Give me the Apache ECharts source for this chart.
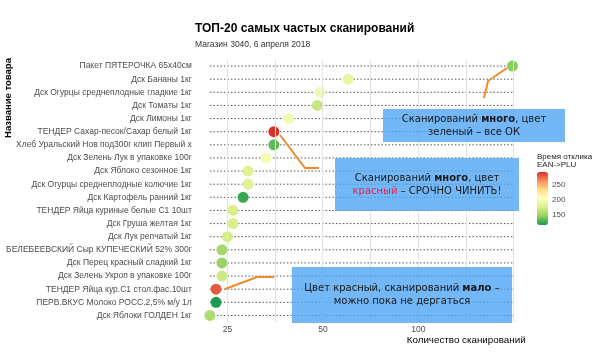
<!DOCTYPE html>
<html><head><meta charset="utf-8">
<script src="https://cdn.jsdelivr.net/npm/echarts@6/dist/echarts.min.js"></script>
<style>html,body{margin:0;padding:0;background:#fff}#c{width:600px;height:359px}</style>
</head><body><div id="c"></div>
<script>
const categories = [
  'Пакет ПЯТЕРОЧКА 65x40см',
  'Дск Бананы 1кг',
  'Дск Огурцы среднеплодные гладкие 1кг',
  'Дск Томаты 1кг',
  'Дск Лимоны 1кг',
  'ТЕНДЕР Сахар-песок/Сахар белый 1кг',
  'Хлеб Уральский Нов под300г клип Первый х',
  'Дск Зелень Лук в упаковке 100г',
  'Дск Яблоко сезонное 1кг',
  'Дск Огурцы среднеплодные колючие 1кг',
  'Дск Картофель ранний 1кг',
  'ТЕНДЕР Яйца куриные белые С1 10шт',
  'Дск Груша желтая 1кг',
  'Дск Лук репчатый 1кг',
  'БЕЛЕБЕЕВСКИЙ Сыр КУПЕЧЕСКИЙ 52% 300г',
  'Дск Перец красный сладкий 1кг',
  'Дск Зелень Укроп в упаковке 100г',
  'ТЕНДЕР Яйца кур.С1 стол.фас.10шт',
  'ПЕРВ.ВКУС Молоко РОСС.2,5% м/у 1л',
  'Дск Яблоки ГОЛДЕН 1кг'
];
const scanCounts = [198, 60, 49, 48, 39, 35, 35, 33, 29, 29, 28, 26, 26, 25, 24, 24, 24, 23, 23, 22];
const responseTimes = [145, 188, 196, 168, 196, 292, 135, 198, 182, 182, 125, 176, 176, 174, 155, 150, 170, 280, 118, 158];
const xTickLabels = [25, 50, 100];
const xMajorBreaks = [25, 50, 100, 200];
const legendTicks = [150, 200, 250];
const colorRange = [117, 293];
const paletteRdYlGnRev = ['#1a9850', '#91cf60', '#d9ef8b', '#ffffbf', '#fee08b', '#fc8d59', '#d73027'];

const chart = echarts.init(document.getElementById('c'));
const lx = scanCounts.map(v => Math.log2(v));
const lmin = Math.min(...lx), lmax = Math.max(...lx);
const pad = 0.05 * (lmax - lmin);
const xMin = lmin - pad, xMax = lmax + pad;
const gridVals = [];
for (let i = 0; i < xMajorBreaks.length; i++) {
  gridVals.push(xMajorBreaks[i]);
  if (i < xMajorBreaks.length - 1) gridVals.push(Math.sqrt(xMajorBreaks[i] * xMajorBreaks[i + 1]));
}

const legTop = 172, legH = 53, legLeft = 537;
const legendGraphics = legendTicks.map(v => ({
  type: 'text', x: legLeft + 15, y: legTop + (colorRange[1] - v) / (colorRange[1] - colorRange[0]) * legH,
  style: { text: String(v), fontSize: 8, fontFamily: 'Liberation Sans', fill: '#4d4d4d', textVerticalAlign: 'middle' }
}));

const boxFill = 'rgba(80,165,245,0.8)';
const txtBase = { fontSize: 10, fontFamily: 'DejaVu Sans', fill: '#1a1a1a' };
const rich = {
  n: Object.assign({}, txtBase),
  b: Object.assign({}, txtBase, { fontWeight: 'bold' }),
  r: Object.assign({}, txtBase, { fill: '#e3264f' })
};
function box(x, y, w, h, text) {
  return [
    { type: 'rect', z: 100, shape: { x, y, width: w, height: h }, style: { fill: boxFill } },
    { type: 'text', z: 101, x: x + w / 2, y: y + h / 2, style: { text, rich, textAlign: 'center', textVerticalAlign: 'middle', lineHeight: 13, fontSize: 10, fontFamily: 'DejaVu Sans' } }
  ];
}
const orange = { stroke: '#f08a2a', lineWidth: 2, fill: null };

chart.setOption({
  animation: false,
  title: {
    text: 'ТОП-20 самых частых сканирований',
    subtext: 'Магазин 3040, 6 апреля 2018',
    left: 195, top: 23, padding: 0, itemGap: 5,
    textStyle: { fontSize: 12, fontWeight: 'bold', fontFamily: 'Liberation Sans', color: '#000' },
    subtextStyle: { fontSize: 8.5, fontFamily: 'Liberation Sans', color: '#333' }
  },
  grid: { left: 194.8, right: 72.4, top: 59.5, bottom: 37, containLabel: false },
  xAxis: {
    type: 'value', min: xMin, max: xMax,
    name: 'Количество сканирований', nameLocation: 'end',
    nameGap: 0,
    nameTextStyle: { fontSize: 9.8, fontFamily: 'Liberation Sans', color: '#000', align: 'right', verticalAlign: 'top', padding: [13, 2, 0, 0] },
    axisLine: { show: false }, axisTick: { show: false },
    splitLine: { show: false },
    axisLabel: {
      customValues: xTickLabels.map(v => Math.log2(v)),
      formatter: v => String(Math.round(Math.pow(2, v))),
      fontSize: 8.5, fontFamily: 'Liberation Sans', color: '#4d4d4d', margin: 3
    }
  },
  yAxis: {
    type: 'category', data: categories, inverse: true,
    axisLine: { show: false }, axisTick: { show: false }, splitLine: { show: false },
    axisLabel: { fontSize: 8.5, fontFamily: 'Liberation Sans', color: '#4d4d4d', margin: 3 }
  },
  visualMap: {
    type: 'continuous', min: colorRange[0], max: colorRange[1], dimension: 2, seriesIndex: 1,
    left: legLeft, top: legTop, itemWidth: 11, itemHeight: legH, padding: 0,
    calculable: false, text: ['', ''], hoverLink: false, showLabel: false,
    inRange: { color: paletteRdYlGnRev }
  },
  series: [
    {
      type: 'custom', z: 2, silent: true,
      data: categories.map((c, i) => [lmin, i, lmax]),
      encode: { x: [0, 2], y: 1 },
      renderItem: (params, api) => {
        const p1 = api.coord([api.value(0), api.value(1)]);
        const p2 = api.coord([api.value(2), api.value(1)]);
        return { type: 'line', shape: { x1: p1[0], y1: p1[1], x2: p2[0], y2: p2[1] },
          style: { stroke: '#555', lineWidth: 1, lineDash: [1.5, 2] } };
      },
      markLine: {
        silent: true, symbol: 'none', label: { show: false },
        lineStyle: { color: '#e3e3e3', type: 'solid', width: 1 },
        data: gridVals.map(v => ({ xAxis: Math.log2(v) }))
      }
    },
    {
      type: 'scatter', z: 3, symbolSize: 11,
      itemStyle: { opacity: 1 },
      data: scanCounts.map((v, i) => [Math.log2(v), i, responseTimes[i]])
    }
  ],
  graphic: [
    { type: 'text', x: 8, y: 98, rotation: Math.PI / 2,
      style: { text: 'Название товара', fontSize: 9.5, fontWeight: 'bold', fontFamily: 'Liberation Sans', fill: '#000', textAlign: 'center', textVerticalAlign: 'middle' } },
    { type: 'text', x: legLeft, y: 153,
      style: { text: 'Время отклика\nEAN->PLU', fontSize: 8, lineHeight: 8, fontFamily: 'Liberation Sans', fill: '#222' } },
    ...legendGraphics,
    ...box(383, 109, 182, 33, '{n|Сканирований }{b|много}{n|, цвет}\n{n|зеленый – все ОК}'),
    ...box(335, 158, 184, 53, '{n|Сканирований }{b|много}{n|, цвет}\n{r|красный}{n| – СРОЧНО ЧИНИТЬ!}'),
    ...box(292, 267, 220, 56, '{n|Цвет красный, сканирований }{b|мало}{n| –}\n{n|можно пока не дергаться}'),
    { type: 'polyline', z: 100, shape: { points: [[484, 98], [488, 81], [507, 68]] }, style: orange },
    { type: 'polyline', z: 100, shape: { points: [[280, 135], [305, 168], [319, 168]] }, style: orange },
    { type: 'polyline', z: 100, shape: { points: [[225, 289], [257, 277], [274, 277]] }, style: orange }
  ]
});
</script>
</body></html>
